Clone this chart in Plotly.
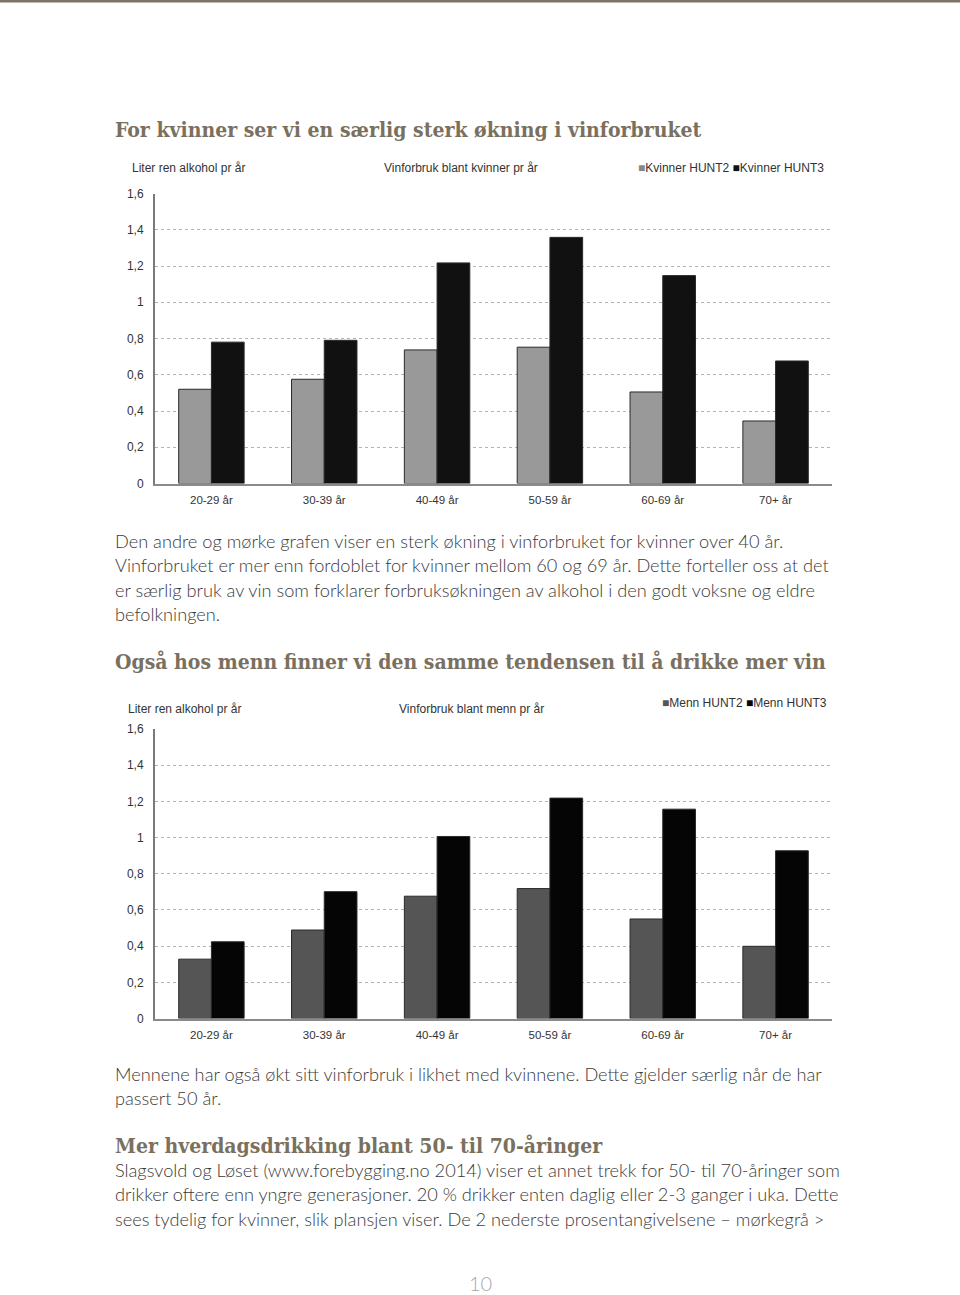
import plotly.graph_objects as go

W, H = 960, 1295

ages = ['20-29 år', '30-39 år', '40-49 år', '50-59 år', '60-69 år', '70+ år']
kvinner_hunt2 = [0.52, 0.575, 0.737, 0.752, 0.505, 0.345]
kvinner_hunt3 = [0.78, 0.79, 1.217, 1.358, 1.147, 0.676]
menn_hunt2 = [0.328, 0.489, 0.676, 0.718, 0.55, 0.399]
menn_hunt3 = [0.424, 0.701, 1.006, 1.218, 1.157, 0.927]

y_ticks = [0, 0.2, 0.4, 0.6, 0.8, 1.0, 1.2, 1.4, 1.6]
y_tick_labels = ['0', '0,2', '0,4', '0,6', '0,8', '1', '1,2', '1,4', '1,6']

HEAD_COLOR = '#7a705f'
TEXT_COLOR = '#3a3a3a'
CHART_TXT = '#333333'
BODY_FONT = 'Lato'
HEAD_FONT = 'DejaVu Serif Condensed, DejaVu Serif'
CHART_FONT = 'Liberation Sans, Arial'


def px(x):
    return x / W


def py(y):
    return 1 - y / H


def bar(x, y, name, color, xa, ya):
    return go.Bar(x=x, y=y, name=name, xaxis=xa, yaxis=ya,
                  marker=dict(color=color, line=dict(color='#2a2a2a', width=1)),
                  showlegend=False)


fig = go.Figure()
fig.add_trace(bar(ages, kvinner_hunt2, 'Kvinner HUNT2', '#999999', 'x', 'y'))
fig.add_trace(bar(ages, kvinner_hunt3, 'Kvinner HUNT3', '#111111', 'x', 'y'))
fig.add_trace(bar(ages, menn_hunt2, 'Menn HUNT2', '#555555', 'x2', 'y2'))
fig.add_trace(bar(ages, menn_hunt3, 'Menn HUNT3', '#050505', 'x2', 'y2'))

xaxis_style = dict(showline=True, linecolor='#8a8a8a', linewidth=2, ticks='',
                   ticklabelstandoff=5, automargin=False,
                   tickfont=dict(family=CHART_FONT, size=11.5, color=CHART_TXT),
                   showgrid=False, fixedrange=True)
yaxis_style = dict(range=[0, 1.6], tickvals=y_ticks, ticktext=y_tick_labels,
                   showline=True, linecolor='#7a7a7a', linewidth=2, ticks='',
                   ticklabelstandoff=7, automargin=False,
                   showgrid=True, gridcolor='#b4b4b4', griddash='dot', gridwidth=1,
                   zeroline=False,
                   tickfont=dict(family=CHART_FONT, size=12, color=CHART_TXT))

fig.update_layout(
    width=W, height=H,
    margin=dict(l=0, r=0, t=0, b=0, pad=0, autoexpand=False),
    paper_bgcolor='white', plot_bgcolor='white',
    barmode='group', bargap=0.42, bargroupgap=0,
    xaxis=dict(domain=[px(155), px(832)], anchor='y', **xaxis_style),
    yaxis=dict(domain=[py(483.5), py(193.5)], anchor='x', **yaxis_style),
    xaxis2=dict(domain=[px(155), px(832)], anchor='y2', **xaxis_style),
    yaxis2=dict(domain=[py(1018.5), py(729)], anchor='x2', **yaxis_style),
)

# top border line
fig.add_shape(type='rect', xref='paper', yref='paper', x0=0, x1=1, y0=py(2.5), y1=1,
              fillcolor='#7d7664', line=dict(width=0))

annotations = []


def txt(x, y, s, size, color, family, xanchor='left', weight=None):
    f = dict(family=family, size=size, color=color)
    if weight:
        f['weight'] = weight
    annotations.append(dict(x=px(x), y=py(y), xref='paper', yref='paper', text=s,
                            showarrow=False, xanchor=xanchor, yanchor='middle',
                            font=f))


def legend_text(n1, c1, n2, c2):
    return (f"<span style='color:{c1}'>■</span>{n1} "
            f"<span style='color:{c2}'>■</span>{n2}")


# headings
txt(113, 129, 'For kvinner ser vi en særlig sterk økning i vinforbruket', 21, HEAD_COLOR,
    HEAD_FONT, weight=700)
txt(113, 661, 'Også hos menn finner vi den samme tendensen til å drikke mer vin', 21, HEAD_COLOR,
    HEAD_FONT, weight=700)
txt(113, 1145, 'Mer hverdagsdrikking blant 50- til 70-åringer', 21, HEAD_COLOR,
    HEAD_FONT, weight=700)

# chart 1 header texts
txt(130, 168, 'Liter ren alkohol pr år', 12, CHART_TXT, CHART_FONT)
txt(461, 168, 'Vinforbruk blant kvinner pr år', 12, CHART_TXT, CHART_FONT, xanchor='center')
txt(826, 168, legend_text('Kvinner HUNT2', '#888888', 'Kvinner HUNT3', '#111111'),
    12, CHART_TXT, CHART_FONT, xanchor='right')

# chart 2 header texts
txt(126, 709, 'Liter ren alkohol pr år', 12, CHART_TXT, CHART_FONT)
txt(471, 709, 'Vinforbruk blant menn pr år', 12, CHART_TXT, CHART_FONT, xanchor='center')
txt(829, 703, legend_text('Menn HUNT2', '#555555', 'Menn HUNT3', '#050505'),
    12, CHART_TXT, CHART_FONT, xanchor='right')

# body paragraphs
para1 = ['Den andre og mørke grafen viser en sterk økning i vinforbruket for kvinner over 40 år.',
         'Vinforbruket er mer enn fordoblet for kvinner mellom 60 og 69 år. Dette forteller oss at det',
         'er særlig bruk av vin som forklarer forbruksøkningen av alkohol i den godt voksne og eldre',
         'befolkningen.']
para2 = ['Mennene har også økt sitt vinforbruk i likhet med kvinnene. Dette gjelder særlig når de har',
         'passert 50 år.']
para3 = ['Slagsvold og Løset (www.forebygging.no 2014) viser et annet trekk for 50- til 70-åringer som',
         'drikker oftere enn yngre generasjoner. 20 % drikker enten daglig eller 2-3 ganger i uka. Dette',
         'sees tydelig for kvinner, slik plansjen viser. De 2 nederste prosentangivelsene – mørkegrå >']

for start, lines in [(541, para1), (1074, para2), (1170, para3)]:
    for i, line in enumerate(lines):
        txt(113, start + i * 24.4, line, 18.2, TEXT_COLOR, BODY_FONT, weight=300)

# page number
txt(480, 1283, '10', 20, '#a8a8a8', BODY_FONT, xanchor='center', weight=300)

fig.update_layout(annotations=annotations)

fig.write_html("out.html", config={'displayModeBar': False},
               post_script="document.body.style.margin='0';"
                           "document.body.style.overflow='hidden';")
